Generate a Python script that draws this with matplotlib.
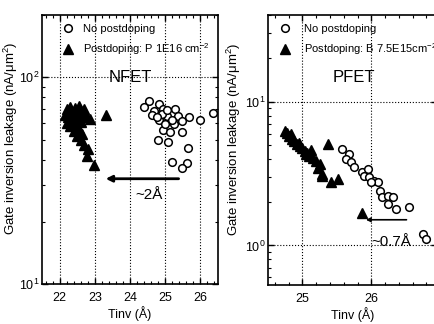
import numpy as np
import matplotlib
matplotlib.use("Agg")
import matplotlib.pyplot as plt
from matplotlib.ticker import MultipleLocator, LogLocator, NullFormatter

plt.rcParams['font.family'] = ['Liberation Sans', 'DejaVu Sans']
plt.rcParams['mathtext.fontset'] = 'custom'
plt.rcParams['mathtext.rm'] = 'Liberation Sans'
plt.rcParams['mathtext.it'] = 'Liberation Sans:italic'

# NFET data (Tinv in A, leakage in nA/um^2)
n_no_x = [24.54, 24.41, 24.81, 24.67, 24.93, 25.27, 25.05, 24.81, 25.35, 25.67,
          25.24, 25.48, 24.95, 25.14, 25.48, 24.79, 25.09, 25.64, 25.19, 25.62,
          25.48, 26.00, 26.35, 24.62, 24.91, 25.05, 25.19, 25.00, 24.76]
n_no_y = [76.6, 71.5, 74.1, 68.8, 70.6, 70.6, 64.9, 62.0, 64.9, 64.3,
          59.7, 61.5, 55.8, 54.4, 54.4, 49.6, 48.7, 45.3, 39.0, 38.5,
          36.6, 62.0, 67.5, 65.5, 66.8, 69.3, 62.0, 59.7, 64.3]
n_pd_x = [22.15, 22.20, 22.25, 22.30, 22.35, 22.40, 22.45, 22.50, 22.55, 22.60,
          22.65, 22.70, 22.75, 22.85, 22.20, 22.30, 22.40, 22.45, 22.50, 22.55,
          22.60, 22.65, 22.70, 22.80, 22.78, 22.98, 23.33, 22.35, 22.25, 22.60]
n_pd_y = [66, 70, 64, 72, 68, 62, 71, 66, 73, 69,
          64, 70, 66, 63, 60, 58, 55, 59, 52, 56,
          50, 53, 47, 45, 41.5, 37.6, 65.5, 62, 67, 61]

# PFET data
p_no_x = [25.58, 25.68, 25.63, 25.71, 25.75, 25.87, 25.95, 25.90, 25.97, 26.04,
          26.09, 26.00, 26.12, 26.16, 26.24, 26.31, 26.24, 26.36, 26.55, 26.75, 26.80]
p_no_y = [4.69, 4.34, 4.00, 3.79, 3.50, 3.23, 3.41, 3.06, 2.98, 2.83,
          2.75, 2.75, 2.41, 2.16, 2.22, 2.16, 1.95, 1.80, 1.85, 1.20, 1.11]
p_pd_x = [24.74, 24.78, 24.81, 24.85, 24.88, 24.92, 24.96, 25.00, 25.03, 25.07,
          25.10, 25.15, 25.20, 25.25, 25.23, 25.29, 25.28, 25.42, 25.51, 25.37, 25.86,
          24.84, 24.95, 25.05, 25.12]
p_pd_y = [6.30, 6.05, 5.80, 5.55, 5.36, 5.10, 4.94, 4.75, 4.57, 4.40,
          4.22, 4.05, 3.89, 3.69, 3.48, 3.15, 3.05, 2.75, 2.91, 5.08, 1.69,
          5.95, 5.20, 4.30, 4.60]

fig = plt.figure(figsize=(4.34, 3.24), dpi=100)
ax1 = fig.add_axes([0.0968, 0.1235, 0.4055, 0.830])
ax2 = fig.add_axes([0.6175, 0.120, 0.389, 0.833])


def style(ax, labx):
    ax.set_yscale('log')
    ax.tick_params(which='both', direction='in', top=True, right=True, labelsize=9)
    ax.tick_params(which='major', length=4, width=1)
    ax.tick_params(which='minor', length=2.5, width=0.8)
    ax.tick_params(axis='x', pad=6)
    ax.tick_params(axis='y', pad=2)
    ax.xaxis.set_minor_locator(MultipleLocator(0.2))
    ax.yaxis.set_minor_locator(LogLocator(base=10, subs=np.arange(2, 10)))
    ax.yaxis.set_minor_formatter(NullFormatter())
    ax.grid(True, which='major', linestyle=':', color='k', linewidth=0.8)
    for s in ax.spines.values():
        s.set_linewidth(1.2)
    ax.set_xlabel('Tinv (Å)', fontsize=9, labelpad=1)
    ax.set_ylabel('Gate inversion leakage (nA/μm$^2$)', fontsize=9.5)
    ax.yaxis.set_label_coords(labx, 0.54)


# NFET
style(ax1, -0.125)
ax1.plot(n_no_x, n_no_y, 'o', mfc='white', mec='k', ms=5.5, mew=1.1, label='No postdoping')
ax1.plot(n_pd_x, n_pd_y, '^', color='k', ms=6.5, label='Postdoping: P 1E16 cm$^{-2}$')
ax1.set_xlim(21.5, 26.5)
ax1.set_ylim(10, 200)
ax1.xaxis.set_major_locator(MultipleLocator(1))
ax1.text(24.0, 100, 'NFET', fontsize=12, ha='center', va='center')
ax1.annotate('', xy=(23.23, 32.3), xytext=(25.46, 32.3),
             arrowprops=dict(arrowstyle='-|>', color='k', lw=2, mutation_scale=9))
ax1.text(24.55, 27, '~2Å', fontsize=11, ha='center', va='center')
ax1.legend(loc='upper left', bbox_to_anchor=(0.085, 0.985), frameon=False, fontsize=8,
           handletextpad=0.75, labelspacing=0.7, borderaxespad=0, handlelength=1.2)

# PFET
style(ax2, -0.147)
ax2.plot(p_no_x, p_no_y, 'o', mfc='white', mec='k', ms=5.5, mew=1.1, label='No postdoping')
ax2.plot(p_pd_x, p_pd_y, '^', color='k', ms=6.5, label='Postdoping: B 7.5E15cm$^{-2}$')
ax2.set_xlim(24.5, 26.95)
ax2.set_ylim(0.53, 40)
ax2.xaxis.set_major_locator(MultipleLocator(1))
ax2.text(25.75, 14.7, 'PFET', fontsize=12, ha='center', va='center')
ax2.annotate('', xy=(25.88, 1.51), xytext=(26.55, 1.51),
             arrowprops=dict(arrowstyle='-|>', color='k', lw=1.2, mutation_scale=6))
ax2.text(26.29, 1.05, '~0.7Å', fontsize=11, ha='center', va='center')
ax2.legend(loc='upper left', bbox_to_anchor=(0.035, 0.985), frameon=False, fontsize=8,
           handletextpad=1.1, labelspacing=0.7, borderaxespad=0, handlelength=1.2)

fig.savefig('out.png', dpi=100)
